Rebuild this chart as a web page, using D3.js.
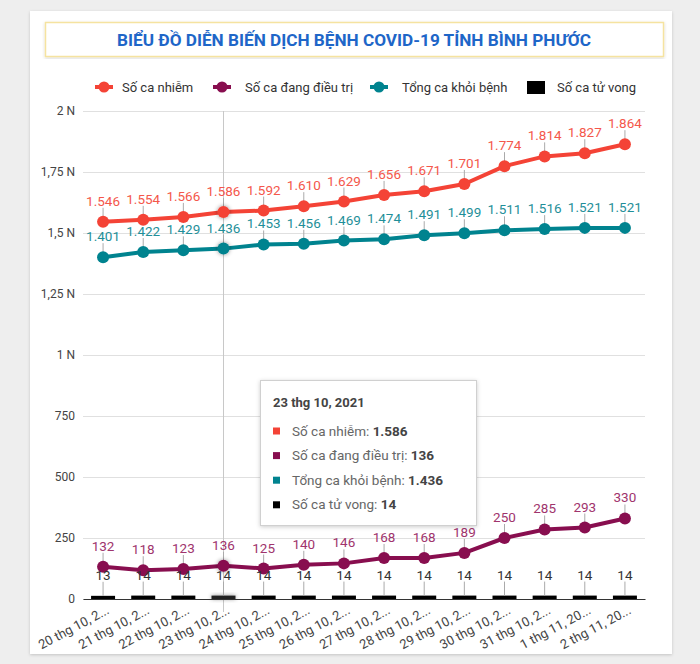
<!DOCTYPE html>
<html><head><meta charset="utf-8">
<script src="https://cdn.jsdelivr.net/npm/d3@7"></script>
<style>
html,body{margin:0;padding:0;background:#eeeeee;}
svg{display:block;font-family:Roboto, "Noto Sans", sans-serif;}
</style></head>
<body>
<svg id="chart" width="700" height="664"></svg>
<script>
const dates = ["20 thg 10, 2021","21 thg 10, 2021","22 thg 10, 2021","23 thg 10, 2021","24 thg 10, 2021","25 thg 10, 2021","26 thg 10, 2021","27 thg 10, 2021","28 thg 10, 2021","29 thg 10, 2021","30 thg 10, 2021","31 thg 10, 2021","1 thg 11, 2021","2 thg 11, 2021"];
const infected  = [1546,1554,1566,1586,1592,1610,1629,1656,1671,1701,1774,1814,1827,1864];
const treating  = [132,118,123,136,125,140,146,168,168,189,250,285,293,330];
const recovered = [1401,1422,1429,1436,1453,1456,1469,1474,1491,1499,1511,1516,1521,1521];
const deaths    = [13,14,14,14,14,14,14,14,14,14,14,14,14,14];
const seriesNames = ["Số ca nhiễm","Số ca đang điều trị","Tổng ca khỏi bệnh","Số ca tử vong"];
const yTickValues = [0,250,500,750,1000,1250,1500,1750,2000];
const yTickLabels = ["0","250","500","750","1 N","1,25 N","1,5 N","1,75 N","2 N"];
const title = "BIỂU ĐỒ DIỄN BIẾN DỊCH BỆNH COVID-19 TỈNH BÌNH PHƯỚC";
const highlightIndex = 3;

const colors = {line:["#f44336","#880e4f","#00838f","#000000"], label:["#f4574b","#a0346d","#1f8f99","#333333"]};
const vn = d3.formatLocale({decimal:",", thousands:".", grouping:[3], currency:["","đ"]});
const fmt = vn.format(",d");

const svg = d3.select("#chart");
const defs = svg.append("defs");
const f1 = defs.append("filter").attr("id","cardShadow").attr("x","-5%").attr("y","-5%").attr("width","110%").attr("height","110%");
f1.append("feDropShadow").attr("dx",0).attr("dy",1).attr("stdDeviation",1.5).attr("flood-color","#000").attr("flood-opacity",0.18);
const f2 = defs.append("filter").attr("id","ptShadow").attr("x","-100%").attr("y","-100%").attr("width","300%").attr("height","300%");
f2.append("feDropShadow").attr("dx",0).attr("dy",0).attr("stdDeviation",2).attr("flood-color","#000").attr("flood-opacity",0.45);
const f3 = defs.append("filter").attr("id","tipShadow").attr("x","-10%").attr("y","-10%").attr("width","120%").attr("height","120%");
f3.append("feDropShadow").attr("dx",0).attr("dy",1).attr("stdDeviation",2).attr("flood-color","#000").attr("flood-opacity",0.2);

// card
svg.append("rect").attr("x",30).attr("y",11).attr("width",642).attr("height",643).attr("fill","#fff").attr("filter","url(#cardShadow)");
// title box
svg.append("rect").attr("x",45.5).attr("y",22.5).attr("width",618).attr("height",34).attr("fill","#fff")
  .attr("stroke","#f5e3a0").attr("stroke-width",1.5).attr("filter","url(#cardShadow)");
svg.append("text").attr("x",354).attr("y",45.5).attr("text-anchor","middle")
  .attr("font-size",16).attr("font-weight",700).attr("fill","#1e66c8").attr("textLength",474).attr("lengthAdjust","spacingAndGlyphs").text(title);

// scales
const x = d3.scaleBand().domain(d3.range(dates.length)).range([83,645]).padding(0);
const cx = i => x(i) + x.bandwidth()/2;
const y = d3.scaleLinear().domain([0,2000]).range([599,111]);

// grid + y axis
const yAxis = d3.axisLeft(y).tickValues(yTickValues).tickSize(-(645-83)).tickFormat((d,i)=>yTickLabels[i]);
const gy = svg.append("g").attr("transform","translate(83,0)").call(yAxis);
gy.select(".domain").remove();
gy.selectAll(".tick line").attr("stroke","#e0e0e0");
gy.selectAll(".tick text").attr("x",-8).attr("font-size",12).attr("fill","#444").attr("font-family","Roboto");

// crosshair
svg.append("line").attr("x1",cx(highlightIndex)).attr("x2",cx(highlightIndex)).attr("y1",y(2000)).attr("y2",612)
  .attr("stroke","#c8c8c8").attr("stroke-width",1);

// bars (deaths)
svg.append("g").selectAll("rect").data(deaths).join("rect")
  .attr("x",(d,i)=>cx(i)-12).attr("width",24)
  .attr("y",d=>y(d)).attr("height",d=>y(0)-y(d))
  .attr("fill",(d,i)=>i===highlightIndex?"#222":"#000")
  .attr("filter",(d,i)=>i===highlightIndex?"url(#ptShadow)":null);

// x axis
const xAxis = d3.axisBottom(x).tickSize(0).tickFormat(i=>{const s=dates[i];return s.length>12?s.slice(0,12)+"...":s;});
const gx = svg.append("g").attr("transform","translate(0,599)").call(xAxis);
gx.select(".domain").attr("stroke","#333").attr("stroke-width",1.2);
gx.selectAll(".tick text").attr("font-size",13).attr("fill","#444").attr("font-family","Roboto")
  .attr("text-anchor","end").attr("dy",0).attr("y",0)
  .attr("transform","translate(7,14) rotate(-28)");

// lines
const lineSeries = [infected, treating, recovered];
const lineGen = d3.line().x((d,i)=>cx(i)).y(d=>y(d));
lineSeries.forEach((vals,k)=>{
  svg.append("path").datum(vals).attr("d",lineGen).attr("fill","none")
    .attr("stroke",colors.line[k]).attr("stroke-width",4).attr("stroke-linejoin","round");
});
// leader lines
function leaders(vals){
  svg.append("g").selectAll("line").data(vals).join("line")
    .attr("x1",(d,i)=>cx(i)).attr("x2",(d,i)=>cx(i))
    .attr("y1",d=>y(d)-14).attr("y2",d=>y(d)).attr("stroke","#aaa").attr("stroke-width",1);
}
lineSeries.forEach(v=>leaders(v));
leaders(deaths);
lineSeries.forEach((vals,k)=>{
  svg.append("g").selectAll("circle").data(vals).join("circle")
    .attr("cx",(d,i)=>cx(i)).attr("cy",d=>y(d)).attr("r",6)
    .attr("fill",colors.line[k])
    .attr("filter",(d,i)=>i===highlightIndex?"url(#ptShadow)":null);
});
[infected,treating,recovered,deaths].forEach((vals,k)=>{
  svg.append("g").selectAll("text").data(vals).join("text")
    .attr("x",(d,i)=>cx(i)).attr("y",d=>y(d)-16)
    .attr("text-anchor","middle").attr("font-size",13.5).attr("fill",colors.label[k]).text(d=>fmt(d));
});

// legend
const legend = [{x:97,tx:122},{x:215,tx:245},{x:372,tx:402},{x:527,tx:557}];
legend.forEach((p,k)=>{
  const g = svg.append("g");
  if(k<3){
    g.append("line").attr("x1",p.x-2).attr("x2",p.x+16).attr("y1",87).attr("y2",87).attr("stroke",colors.line[k]).attr("stroke-width",4);
    g.append("circle").attr("cx",p.x+7).attr("cy",87).attr("r",5.5).attr("fill",colors.line[k]);
  } else {
    g.append("rect").attr("x",p.x).attr("y",81).attr("width",18).attr("height",13).attr("fill","#000");
  }
  g.append("text").attr("x",p.tx).attr("y",91.5).attr("font-size",13).attr("fill","#333").text(seriesNames[k]);
});

// tooltip
const tip = svg.append("g");
tip.append("rect").attr("x",260.5).attr("y",380.5).attr("width",216).attr("height",145).attr("fill","#fff")
  .attr("stroke","#d0d0d0").attr("filter","url(#tipShadow)");
tip.append("text").attr("x",273).attr("y",407).attr("font-size",13).attr("font-weight",700).attr("fill","#444").text(dates[highlightIndex]);
const tipVals = [infected[highlightIndex],treating[highlightIndex],recovered[highlightIndex],deaths[highlightIndex]];
const tipColors = ["#f44336","#880e4f","#00838f","#000"];
tipVals.forEach((v,k)=>{
  const yy = 431 + k*24.6;
  tip.append("rect").attr("x",273).attr("y",yy-3.5).attr("width",7).attr("height",7).attr("fill",tipColors[k]);
  const t = tip.append("text").attr("x",292).attr("y",yy+4.5).attr("font-size",13.5).attr("fill","#666");
  t.append("tspan").text(seriesNames[k]+": ");
  t.append("tspan").attr("font-weight",700).attr("fill","#444").text(fmt(v));
});
</script>
</body></html>
